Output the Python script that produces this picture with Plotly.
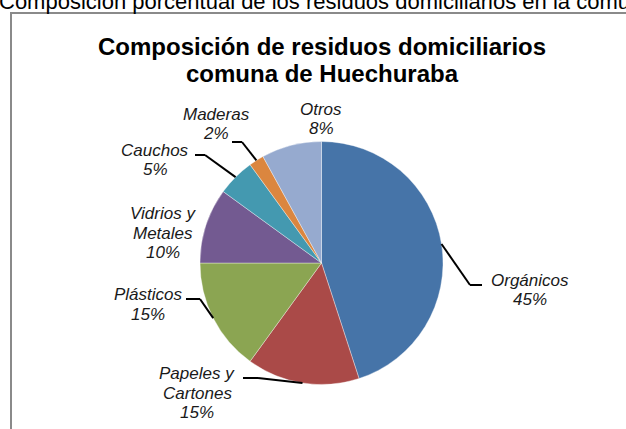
import math
import plotly.graph_objects as go

W, H = 626, 429

# ---- data ----
categories = ["Orgánicos", "Papeles y<br>Cartones", "Plásticos", "Vidrios y<br>Metales",
              "Cauchos", "Maderas", "Otros"]
values = [45, 15, 15, 10, 5, 2, 8]
colors = ["#4674A8", "#AA4A48", "#8BA552", "#735A91", "#4499B0", "#DB863F", "#96AACF"]

title_lines = ["Composición de residuos domiciliarios", "comuna de Huechuraba"]
top_text = "Composición porcentual de los residuos domiciliarios en la comuna de Huechuraba"

# ---- layout (pixel positions) ----
cx, cy, r = 321.5, 263, 121.5
label_pos = [(530, 290), (197, 393), (148, 304.5), (163, 233), (155, 160), (216, 124), (321, 119)]
leader_bend = [(470, 285), (258, 378), (200, 299), None, (205, 155), (242, 142), None]
leader_end = [(482, 285), (243, 378), (186, 299), None, (195, 155), (232, 142), None]
LINE_H = 19.5
LABEL_FONT = dict(family="Liberation Sans, Arial", size=17, color="#1a1a1a")


def px(x):
    return x / W


def py(y):
    return 1 - y / H


fig = go.Figure()
fig.add_trace(go.Pie(
    labels=categories, values=values, sort=False, direction="clockwise", rotation=0,
    marker=dict(colors=colors, line=dict(color="rgba(255,255,255,0.6)", width=0.6)),
    textinfo="none", hoverinfo="label+percent", showlegend=False,
    domain=dict(x=[px(cx - r), px(cx + r)], y=[py(cy + r), py(cy - r)]),
))

shapes = [dict(type="rect", xref="paper", yref="paper",
               x0=px(11), x1=px(W + 20), y0=py(H + 20), y1=py(13),
               line=dict(color="#8a8a8a", width=2), fillcolor="rgba(0,0,0,0)")]


def seg(a, b):
    return dict(type="line", xref="paper", yref="paper",
                x0=px(a[0]), y0=py(a[1]), x1=px(b[0]), y1=py(b[1]),
                line=dict(color="black", width=2))


annotations = []
total = sum(values)
cum = 0
for i, (cat, v) in enumerate(zip(categories, values)):
    mid = (cum + v / 2) / total * 2 * math.pi
    cum += v
    edge = (cx + r * math.sin(mid), cy - r * math.cos(mid))
    if leader_bend[i] is not None:
        shapes.append(seg(edge, leader_bend[i]))
        shapes.append(seg(leader_bend[i], leader_end[i]))
    lines = cat.split("<br>") + [f"{round(v / total * 100)}%"]
    lx, ly = label_pos[i]
    y0 = ly - (len(lines) - 1) * LINE_H / 2
    for k, t in enumerate(lines):
        annotations.append(dict(
            x=px(lx), y=py(y0 + k * LINE_H), xref="paper", yref="paper", showarrow=False,
            text=f"<i>{t}</i>", font=LABEL_FONT,
            xanchor="center", yanchor="middle",
        ))

for k, t in enumerate(title_lines):
    annotations.append(dict(
        x=px(322), y=py(46 + k * 27), xref="paper", yref="paper", showarrow=False,
        text=f"<b>{t}</b>", xanchor="center", yanchor="middle",
        font=dict(family="Liberation Sans, Arial", size=24, color="black"),
    ))
annotations.append(dict(
    x=px(-3), y=py(1.5), xref="paper", yref="paper", showarrow=False,
    text=top_text, align="left", xanchor="left", yanchor="middle",
    font=dict(family="Liberation Sans, Arial", size=22, color="black"),
))

fig.update_layout(
    width=W, height=H, margin=dict(l=0, r=0, t=0, b=0),
    paper_bgcolor="white", plot_bgcolor="white",
    shapes=shapes, annotations=annotations,
)

fig.write_html("out.html", config={"displayModeBar": False},
               post_script="document.body.style.margin='0';")
